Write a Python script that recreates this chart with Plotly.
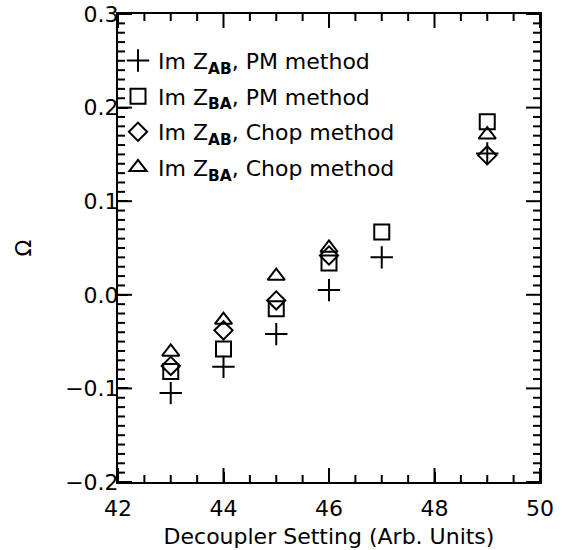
import plotly.graph_objects as go

# Data
x_pm = [43, 44, 45, 46, 47, 49]
y_pm_ab = [-0.105, -0.077, -0.042, 0.005, 0.040, 0.151]
y_pm_ba = [-0.082, -0.058, -0.015, 0.034, 0.067, 0.185]
x_chop = [43, 44, 45, 46, 49]
y_chop_ab = [-0.076, -0.038, -0.006, 0.042, 0.149]
y_chop_ba = [-0.061, -0.027, 0.020, 0.050, 0.171]

names = [
    "Im Z<sub><b>AB</b></sub>, PM method",
    "Im Z<sub><b>BA</b></sub>, PM method",
    "Im Z<sub><b>AB</b></sub>, Chop method",
    "Im Z<sub><b>BA</b></sub>, Chop method",
]

# Axis ranges and tick values
x_range = [42, 50]
y_range = [-0.2, 0.3]
x_major = [42, 44, 46, 48, 50]
x_minor = [42 + 0.5 * i for i in range(17) if (0.5 * i) % 2 != 0]
y_major = [-0.2, -0.1, 0.0, 0.1, 0.2, 0.3]
y_minor = [round(-0.2 + 0.01 * i, 2) for i in range(51) if i % 10 != 0]

FONT = "DejaVu Sans"
FS = 22

fig = go.Figure()

# Tick marks drawn as clipped line markers (inside ticks on all four sides)
def tick_trace(xs, ys, symbol, size):
    return go.Scatter(x=xs, y=ys, mode="markers", showlegend=False,
                      hoverinfo="skip", cliponaxis=True,
                      marker=dict(symbol=symbol, size=size, color="#000000",
                                  line=dict(color="#000000", width=2)))

for yedge in y_range:
    fig.add_trace(tick_trace(x_major, [yedge] * len(x_major), "line-ns-open", 20))
    fig.add_trace(tick_trace(x_minor, [yedge] * len(x_minor), "line-ns-open", 10))
for xedge in x_range:
    fig.add_trace(tick_trace([xedge] * len(y_major), y_major, "line-ew-open", 20))
    fig.add_trace(tick_trace([xedge] * len(y_minor), y_minor, "line-ew-open", 10))

specs = [
    (x_pm, y_pm_ab, "cross-thin-open", 16),
    (x_pm, y_pm_ba, "square-open", 15),
    (x_chop, y_chop_ab, "diamond-open", 14),
    (x_chop, y_chop_ba, "triangle-up-open", 15),
]
for i, (xs, ys, sym, sz) in enumerate(specs):
    fig.add_trace(go.Scatter(
        x=xs, y=ys, mode="markers", name=names[i], legendgroup=f"g{i}",
        marker=dict(symbol=sym, size=sz, color="black",
                    line=dict(color="black", width=2)),
    ))

for ax in (fig.update_xaxes, fig.update_yaxes):
    ax(showline=True, linecolor="#000000", linewidth=2, mirror=True,
       ticks="inside", ticklen=10, tickwidth=2, tickcolor="#000000",
       automargin=False,
       showgrid=False, zeroline=False,
       tickfont=dict(family=FONT, size=FS, color="black"))

fig.update_xaxes(
    range=x_range, tickmode="array", tickvals=x_major, ticklabelstandoff=6,
    title=dict(text="Decoupler Setting (Arb. Units)",
               font=dict(family=FONT, size=FS, color="black"), standoff=8),
)
fig.update_yaxes(
    range=y_range, tickmode="array", tickvals=y_major, tickformat=".1f",
    ticklabelstandoff=-7,
    title=dict(text="Ω", font=dict(family=FONT, size=FS, color="black"), standoff=27),
)

fig.update_layout(
    width=562, height=550,
    margin=dict(l=118, r=22, t=14, b=68),
    paper_bgcolor="white", plot_bgcolor="white",
    showlegend=True,
    legend=dict(x=0.0, y=0.945, xanchor="left", yanchor="top",
                bgcolor="rgba(0,0,0,0)", borderwidth=0,
                font=dict(family=FONT, size=FS, color="black"),
                itemwidth=30, tracegroupgap=4),
    font=dict(family=FONT, color="black"),
)

fig.write_html("out.html")
